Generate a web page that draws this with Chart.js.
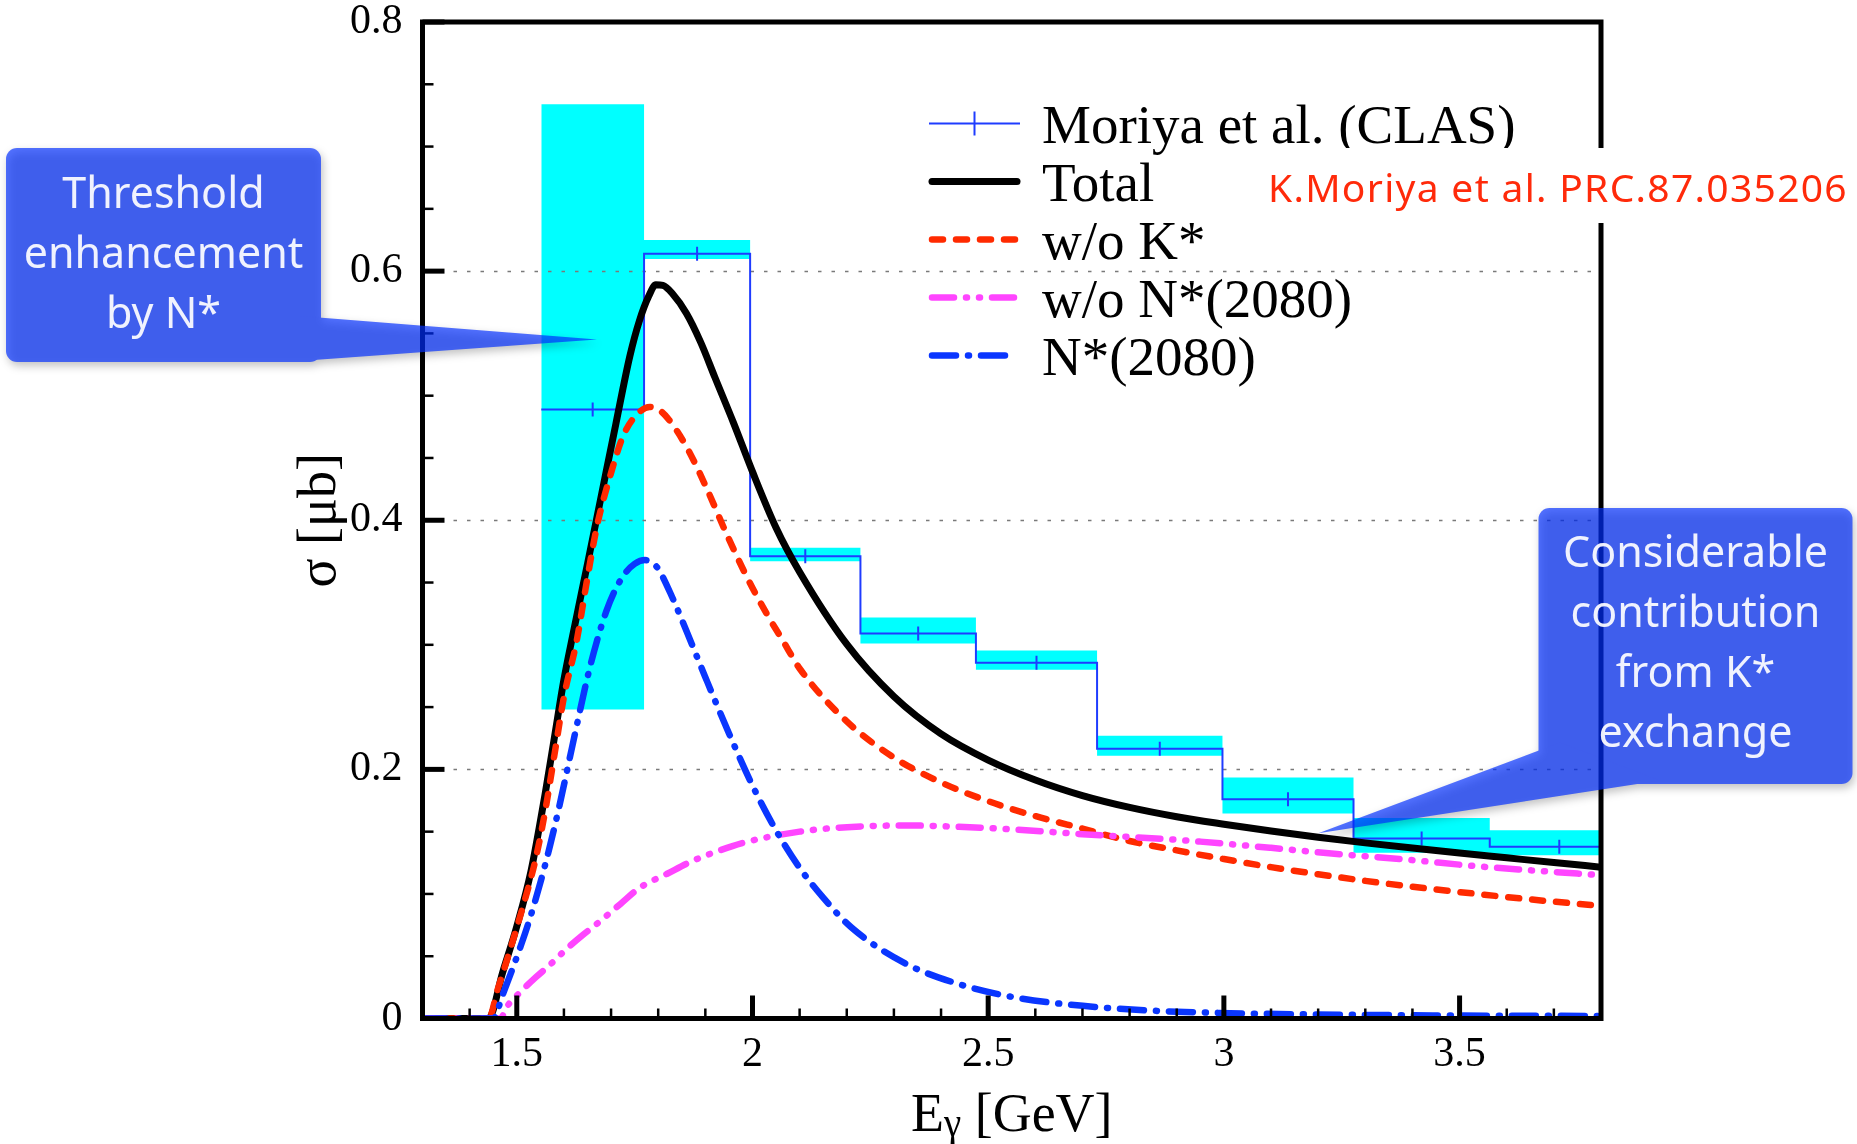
<!DOCTYPE html>
<html>
<head>
<meta charset="utf-8">
<title>Total cross section vs photon energy</title>
<script src="https://cdn.jsdelivr.net/npm/chart.js@4.4.1/dist/chart.umd.min.js"></script>
<style>
  html, body { margin: 0; padding: 0; background: #fff; }
  #wrap { position: relative; width: 1857px; height: 1144px; overflow: hidden; }
  #plot { position: absolute; left: 0; top: 0; }
  #bubbles { position: absolute; left: 0; top: 0; filter: drop-shadow(2px 4px 4px rgba(0,0,0,0.35)); }
  .note {
    position: absolute; color: rgba(255,255,255,0.92);
    font-family: "Noto Sans", "Open Sans", sans-serif; font-size: 43px;
    line-height: 60px; text-align: center; white-space: nowrap;
  }
  #cite {
    position: absolute; left: 1262px; top: 148px; width: 595px; height: 75px; background: #fff;
  }
  #cite span {
    position: absolute; left: 6px; top: 1px; line-height: 75px; white-space: nowrap;
    font-family: "Noto Sans", sans-serif; font-size: 39px; color: #ff2a0a;
  }
</style>
</head>
<body>
<div id="wrap">
  <canvas id="plot" width="1857" height="1144"></canvas>
  <svg id="bubbles" width="1857" height="1144" xmlns="http://www.w3.org/2000/svg">
    <g opacity="0.68" fill="rgb(0,46,255)">
      <rect x="6" y="148" width="315" height="214" rx="11"/>
      <polygon points="300,316 597,339.5 300,361"/>
    </g>
    <g opacity="0.68" fill="rgb(0,46,255)">
      <rect x="1538.5" y="508" width="314" height="276" rx="11"/>
      <polygon points="1560,742.6 1318.3,833.3 1660,780.5"/>
    </g>
  </svg>
  <div class="note" style="left:6px; top:162px; width:315px;">Threshold<br>enhancement<br>by N*</div>
  <div class="note" style="left:1538.5px; top:521px; width:314px;">Considerable<br>contribution<br>from K*<br>exchange</div>
  <div id="cite"><span id="citeText">K.Moriya et al. PRC.87.035206</span></div>
</div>

<script>
// ---- CLAS data: energy bins (GeV), cross section (μb), systematic band ----
const binEdges    = [1.552, 1.770, 1.995, 2.229, 2.474, 2.731, 2.997, 3.275, 3.564, 3.859];
const clasSigma   = [0.489, 0.614, 0.371, 0.309, 0.2855, 0.2165, 0.176, 0.1445, 0.1378];
const clasSysHigh = [0.734, 0.625, 0.378, 0.322, 0.2955, 0.227, 0.1934, 0.161, 0.1512];
const clasSysLow  = [0.248, 0.6097, 0.367, 0.301, 0.280, 0.211, 0.1646, 0.133, 0.1311];

// ---- Model curves ----
const totalE = [1.30, 1.44, 1.47, 1.50, 1.53, 1.56, 1.58, 1.60, 1.62, 1.65, 1.68, 1.71, 1.74, 1.76,
  1.78, 1.795, 1.81, 1.83, 1.86, 1.89, 1.92, 1.96, 2.00, 2.05, 2.10, 2.20, 2.30, 2.40, 2.50, 2.60, 2.70,
  2.80, 2.90, 3.00, 3.10, 3.20, 3.30, 3.40, 3.50, 3.60, 3.70, 3.80];
const totalSigma = [0, 0, 0.037, 0.074, 0.118, 0.180, 0.226, 0.272, 0.310, 0.365, 0.421, 0.477, 0.532, 0.560,
  0.580, 0.589, 0.5885, 0.582, 0.566, 0.543, 0.515, 0.478, 0.439, 0.394, 0.3585, 0.3005, 0.2585, 0.2285, 0.2075, 0.1915, 0.179,
  0.1695, 0.162, 0.156, 0.1505, 0.1455, 0.141, 0.1368, 0.1328, 0.129, 0.1252, 0.1215];

const noKstarE = [1.30, 1.44, 1.46, 1.48, 1.50, 1.52, 1.54, 1.56, 1.58, 1.60, 1.627, 1.65, 1.67, 1.70, 1.726,
  1.755, 1.782, 1.80, 1.82, 1.86, 1.90, 1.945, 1.99, 2.03, 2.065, 2.10, 2.20, 2.30, 2.40, 2.50, 2.60, 2.70,
  2.80, 2.90, 3.00, 3.10, 3.20, 3.30, 3.40, 3.50, 3.60, 3.70, 3.80];
const noKstarSigma = [0, 0, 0.024, 0.048, 0.073, 0.099, 0.128, 0.166, 0.212, 0.258, 0.303, 0.354, 0.395, 0.438, 0.468,
  0.485, 0.491, 0.489, 0.482, 0.459, 0.428, 0.389, 0.353, 0.325, 0.303, 0.281, 0.2385, 0.2095, 0.1895, 0.1745, 0.1625, 0.1525,
  0.1425, 0.135, 0.128, 0.1215, 0.1158, 0.1105, 0.1058, 0.1015, 0.0975, 0.0938, 0.0905];

const noNstarE = [1.30, 1.465, 1.48, 1.507, 1.54, 1.57, 1.606, 1.64, 1.67, 1.72, 1.761, 1.818, 1.87, 1.931,
  1.98, 2.037, 2.10, 2.143, 2.22, 2.322, 2.43, 2.544, 2.70, 2.878, 2.95, 3.10, 3.211, 3.375, 3.544, 3.65, 3.80];
const noNstarSigma = [0, 0, 0.010, 0.021, 0.033, 0.043, 0.056, 0.067, 0.076, 0.092, 0.105, 0.116, 0.126, 0.135,
  0.141, 0.146, 0.150, 0.152, 0.154, 0.155, 0.154, 0.152, 0.148, 0.144, 0.142, 0.137, 0.133, 0.128, 0.122, 0.119, 0.115];

const nstarE = [1.30, 1.45, 1.47, 1.49, 1.51, 1.53, 1.55, 1.57, 1.59, 1.61, 1.63, 1.65, 1.67, 1.69, 1.71,
  1.73, 1.75, 1.772, 1.79, 1.80, 1.83, 1.86, 1.90, 1.95, 2.00, 2.05, 2.10, 2.15, 2.21, 2.32, 2.43, 2.544,
  2.656, 2.822, 2.989, 3.322, 3.80];
const nstarSigma = [0, 0, 0.019, 0.039, 0.060, 0.083, 0.109, 0.138, 0.170, 0.205, 0.240, 0.274, 0.303, 0.327, 0.345,
  0.3575, 0.365, 0.368, 0.365, 0.361, 0.338, 0.311, 0.274, 0.229, 0.187, 0.151, 0.121, 0.097, 0.073, 0.045, 0.0285, 0.0178,
  0.0118, 0.0068, 0.0045, 0.0028, 0.002];

// ---- Axes ----
const xRange = [1.3, 3.8];
const yRange = [0, 0.8];
const xTickValues = [1.5, 2, 2.5, 3, 3.5];
const yTickValues = [0, 0.2, 0.4, 0.6, 0.8];
const xMinorStep = 0.1;
const yMinorStep = 0.05;
const gridValues = [0.2, 0.4, 0.6];

const legendLabels = ['Moriya et al. (CLAS)', 'Total', 'w/o K*', 'w/o N*(2080)', 'N*(2080)'];

// ---- helpers ----
const pairs = (xs, ys) => xs.map((x, i) => ({ x, y: ys[i] }));
function stepPoints(edges, vals) {
  const pts = vals.map((v, i) => ({ x: edges[i], y: v }));
  pts.push({ x: edges[edges.length - 1], y: vals[vals.length - 1] });
  return pts;
}
const binCentres = clasSigma.map((v, i) => ({ x: (binEdges[i] + binEdges[i + 1]) / 2, y: v }));

const SERIF = '"Liberation Serif", "Times New Roman", serif';
const C = {
  clas: '#1f3cff', cyan: '#00ffff', total: '#000000',
  noK: '#ff2a00', noN: '#ff45ff', nstar: '#0a36ff'
};
const DASH = { noK: [11, 13], noN: [22, 12, 1, 12, 1, 12], nstar: [24, 12, 1, 12] };

const curve = (label, data, color, dash, width, order) => ({
  label, data, borderColor: color, borderWidth: width, borderDash: dash,
  borderCapStyle: dash.length ? 'round' : 'butt', borderJoinStyle: 'round',
  pointRadius: 0, cubicInterpolationMode: 'monotone', tension: 0.4, fill: false, order
});

const datasets = [
  // 0: systematic band upper edge
  { label: 'sys-high', data: stepPoints(binEdges, clasSysHigh), stepped: 'before',
    borderColor: 'rgba(0,0,0,0)', borderWidth: 1, pointRadius: 0, fill: false, order: 11 },
  // 1: systematic band lower edge, filled up to the upper edge
  { label: 'sys-low', data: stepPoints(binEdges, clasSysLow), stepped: 'before',
    borderColor: 'rgba(0,0,0,0)', borderWidth: 1, pointRadius: 0, fill: '-1',
    backgroundColor: C.cyan, order: 10 },
  // 2: CLAS histogram
  { label: legendLabels[0], data: stepPoints(binEdges, clasSigma), stepped: 'before',
    borderColor: C.clas, borderWidth: 2, pointRadius: 0, fill: false, order: 6 },
  // 3: CLAS bin-centre markers
  { label: 'clas-centres', data: binCentres, showLine: false, pointStyle: 'line',
    pointRotation: 90, pointRadius: 7, pointBorderWidth: 2, pointBorderColor: C.clas,
    pointBackgroundColor: C.clas, borderColor: C.clas, order: 5 },
  curve(legendLabels[1], pairs(totalE, totalSigma), C.total, [], 7, 4),
  curve(legendLabels[2], pairs(noKstarE, noKstarSigma), C.noK, DASH.noK, 6.5, 3),
  curve(legendLabels[3], pairs(noNstarE, noNstarSigma), C.noN, DASH.noN, 6.5, 2),
  curve(legendLabels[4], pairs(nstarE, nstarSigma), C.nstar, DASH.nstar, 6.5, 1)
];
const legendDatasets = [2, 4, 5, 6, 7];

// dotted horizontal guides, drawn right above the systematic band
const guides = {
  id: 'guides',
  afterDatasetDraw(chart, args) {
    if (args.index !== 1) return;
    const { ctx, chartArea: a, scales: { y } } = chart;
    ctx.save();
    ctx.strokeStyle = '#7a7a7a';
    ctx.lineWidth = 1.6;
    ctx.setLineDash([3.5, 10]);
    gridValues.forEach(v => {
      const py = Math.round(y.getPixelForValue(v)) + 0.5;
      ctx.beginPath(); ctx.moveTo(a.left + 4, py); ctx.lineTo(a.right - 6, py); ctx.stroke();
    });
    ctx.restore();
  }
};

// heavy frame with inward ticks
const frame = {
  id: 'frame',
  afterDatasetsDraw(chart) {
    const { ctx, chartArea: a, scales: { x, y } } = chart;
    ctx.save();
    ctx.strokeStyle = '#000';
    ctx.setLineDash([]);
    // minor ticks
    ctx.lineWidth = 2.5;
    const nY = Math.round((yRange[1] - yRange[0]) / yMinorStep);
    for (let k = 1; k < nY; k++) {
      const py = y.getPixelForValue(yRange[0] + k * yMinorStep);
      ctx.beginPath(); ctx.moveTo(a.left, py); ctx.lineTo(a.left + 11, py); ctx.stroke();
    }
    const nX = Math.round((xRange[1] - xRange[0]) / xMinorStep);
    for (let k = 1; k < nX; k++) {
      const px = x.getPixelForValue(xRange[0] + k * xMinorStep);
      ctx.beginPath(); ctx.moveTo(px, a.bottom); ctx.lineTo(px, a.bottom - 10); ctx.stroke();
    }
    // major ticks
    ctx.lineWidth = 5;
    yTickValues.forEach(v => {
      const py = y.getPixelForValue(v);
      ctx.beginPath(); ctx.moveTo(a.left, py); ctx.lineTo(a.left + 22, py); ctx.stroke();
    });
    xTickValues.forEach(v => {
      const px = x.getPixelForValue(v);
      ctx.beginPath(); ctx.moveTo(px, a.bottom); ctx.lineTo(px, a.bottom - 23); ctx.stroke();
    });
    // frame
    ctx.lineWidth = 5;
    ctx.strokeRect(a.left, a.top, a.right - a.left, a.bottom - a.top);
    ctx.restore();
  }
};

// axis titles and legend
const labels = {
  id: 'labels',
  afterDraw(chart) {
    const { ctx, chartArea: a } = chart;
    ctx.save();
    ctx.fillStyle = '#000';
    ctx.textBaseline = 'alphabetic';

    // y title, reading upwards
    ctx.save();
    ctx.translate(335, (a.top + a.bottom) / 2);
    ctx.rotate(-Math.PI / 2);
    ctx.font = `54px ${SERIF}`;
    ctx.textAlign = 'center';
    ctx.fillText('σ [μb]', 0, 0);
    ctx.restore();

    // x title with subscript gamma
    const big = `54px ${SERIF}`, small = `39px ${SERIF}`;
    ctx.textAlign = 'left';
    ctx.font = big; const wE = ctx.measureText('E').width; const wRest = ctx.measureText(' [GeV]').width;
    ctx.font = small; const wG = ctx.measureText('γ').width;
    let tx = (a.left + a.right) / 2 - (wE + wG + wRest) / 2;
    const base = 1131;
    ctx.font = big; ctx.fillText('E', tx, base); tx += wE;
    ctx.font = small; ctx.fillText('γ', tx, base + 5); tx += wG;
    ctx.font = big; ctx.fillText(' [GeV]', tx, base);

    // legend
    const x0 = 929, x1 = 1020, tX = 1042, row0 = 123.5, gap = 58;
    legendDatasets.forEach((di, r) => {
      const ds = chart.data.datasets[di];
      const ly = row0 + r * gap;
      ctx.save();
      ctx.strokeStyle = ds.borderColor;
      if (di === 2) {
        ctx.lineWidth = 2;
        ctx.beginPath(); ctx.moveTo(x0, ly); ctx.lineTo(x1, ly); ctx.stroke();
        const cx = (x0 + x1) / 2;
        ctx.beginPath(); ctx.moveTo(cx, ly - 12); ctx.lineTo(cx, ly + 12); ctx.stroke();
      } else {
        ctx.lineWidth = ds.borderWidth;
        ctx.lineCap = 'round';
        ctx.setLineDash(ds.borderDash);
        ctx.beginPath(); ctx.moveTo(x0 + 3, ly); ctx.lineTo(x1 - 3, ly); ctx.stroke();
      }
      ctx.restore();
      ctx.font = `55px ${SERIF}`;
      ctx.fillStyle = '#000';
      ctx.textAlign = 'left';
      ctx.fillText(ds.label, tX, ly + 19.5);
    });
    ctx.restore();
  }
};

const tickFont = { family: SERIF, size: 42 };

new Chart(document.getElementById('plot'), {
  type: 'line',
  data: { datasets },
  options: {
    responsive: false,
    animation: false,
    devicePixelRatio: 1,
    events: [],
    layout: { padding: { top: 22, right: 256, left: 0, bottom: 0 } },
    plugins: { legend: { display: false }, tooltip: { enabled: false } },
    scales: {
      x: {
        type: 'linear', min: xRange[0], max: xRange[1],
        grid: { display: false, drawTicks: false }, border: { display: false },
        afterBuildTicks: s => { s.ticks = xTickValues.map(v => ({ value: v })); },
        afterFit: s => { s.height = 125.5; s.paddingLeft = 0; s.paddingRight = 0; },
        ticks: { autoSkip: false, maxRotation: 0, padding: 11, font: tickFont, color: '#000',
                 callback: v => String(v) }
      },
      y: {
        type: 'linear', min: yRange[0], max: yRange[1],
        grid: { display: false, drawTicks: false }, border: { display: false },
        afterBuildTicks: s => { s.ticks = yTickValues.map(v => ({ value: v })); },
        afterFit: s => { s.width = 422.5; s.paddingTop = 0; s.paddingBottom = 0; },
        ticks: { autoSkip: false, padding: 20, font: tickFont, color: '#000',
                 callback: v => String(v) }
      }
    }
  },
  plugins: [guides, frame, labels]
});

// stretch the citation to its full span
(function () {
  const el = document.getElementById('citeText');
  const target = 580;
  const w = el.getBoundingClientRect().width;
  const n = el.textContent.length;
  el.style.letterSpacing = ((target - w) / n).toFixed(2) + 'px';
})();
</script>
</body>
</html>
